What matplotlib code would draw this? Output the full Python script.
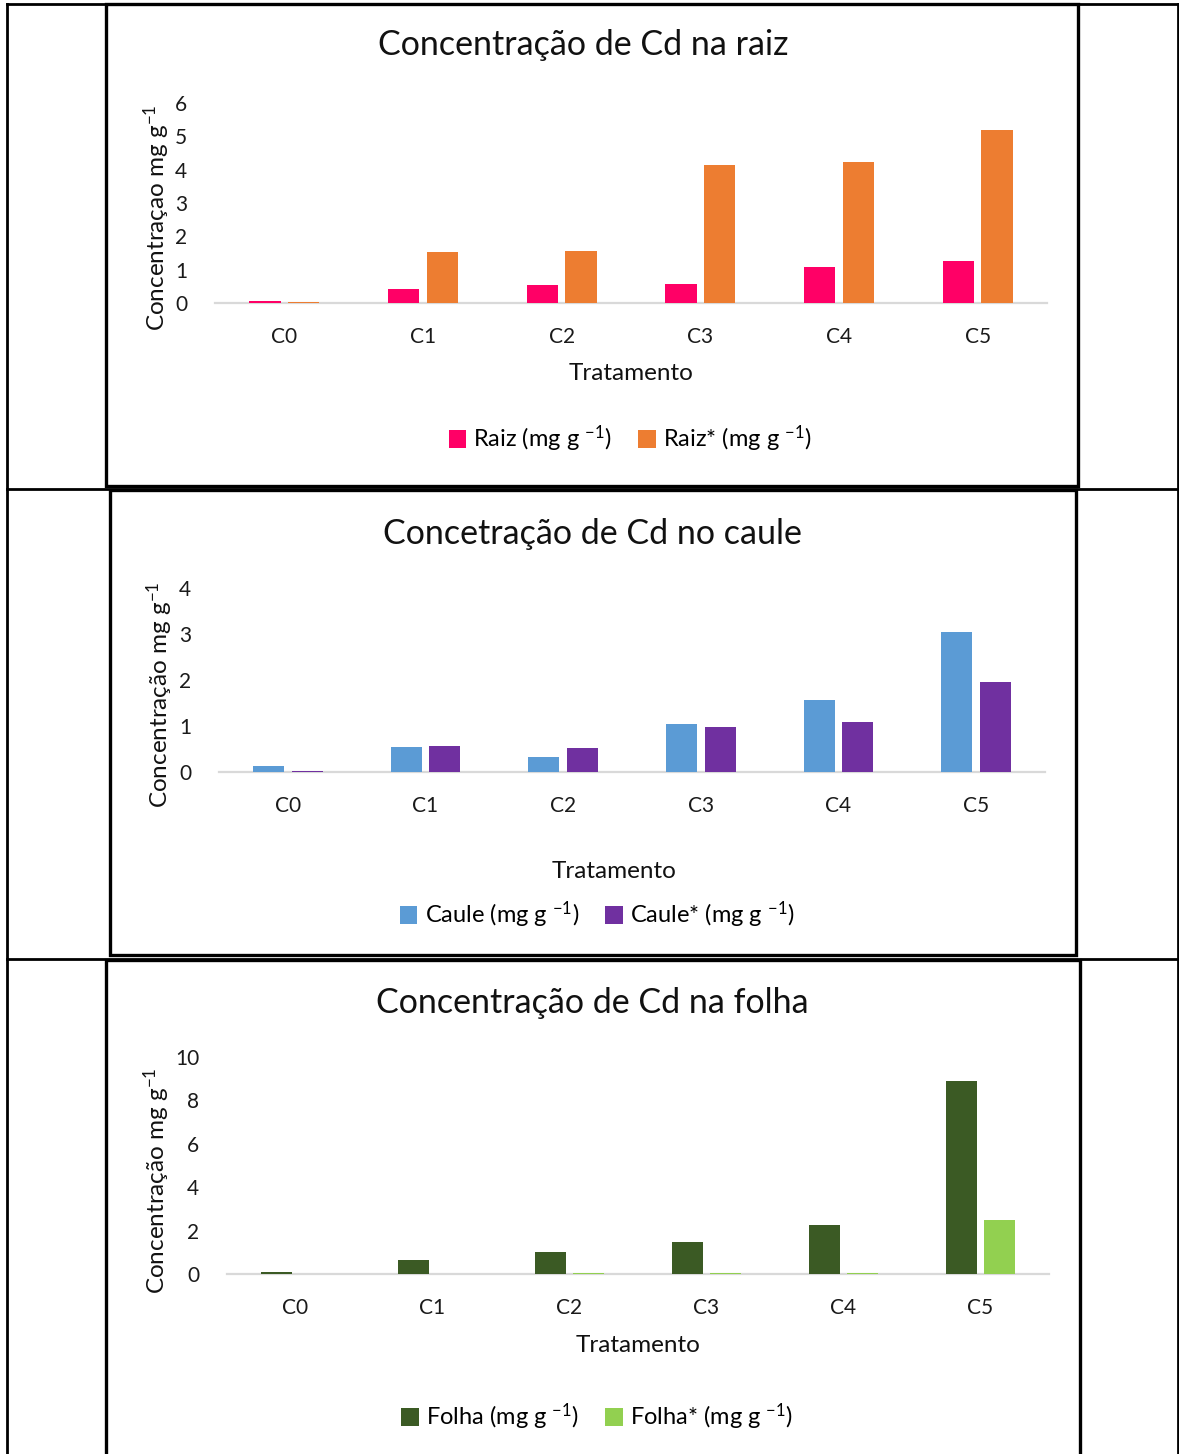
import numpy as np
import matplotlib
matplotlib.use("Agg")
import matplotlib.pyplot as plt
from matplotlib.lines import Line2D
from matplotlib.patches import Rectangle

plt.rcParams['font.family'] = ['Lato', 'DejaVu Sans']
plt.rcParams['mathtext.fontset'] = 'custom'
plt.rcParams['mathtext.rm'] = 'Lato'
plt.rcParams['mathtext.it'] = 'Lato:italic'

# dados
tratamentos = ['C0', 'C1', 'C2', 'C3', 'C4', 'C5']

raiz = [0.06, 0.42, 0.54, 0.57, 1.08, 1.26]
raiz_estrela = [0.02, 1.53, 1.56, 4.14, 4.23, 5.19]

caule = [0.13, 0.54, 0.33, 1.04, 1.57, 3.04]
caule_estrela = [0.03, 0.57, 0.52, 0.98, 1.09, 1.96]

folha = [0.08, 0.65, 1.01, 1.47, 2.26, 8.9]
folha_estrela = [0.02, 0.02, 0.03, 0.05, 0.05, 2.49]

W, H = 1179, 1454
fig = plt.figure(figsize=(W / 100, H / 100), dpi=100)
fig.patch.set_facecolor('white')


def fy(y):
    return 1 - y / H


def linha(x0, y0, x1, y1, lw=2.0):
    fig.add_artist(Line2D([x0 / W, x1 / W], [fy(y0), fy(y1)], color='black', lw=lw,
                          transform=fig.transFigure))


def caixa(x0, y0, x1, y1):
    fig.add_artist(Rectangle((x0 / W, fy(y1)), (x1 - x0) / W, (y1 - y0) / H,
                             fill=False, ec='black', lw=2.4, transform=fig.transFigure))


def painel(esq, dir_, y_zero, y_topo, ymax, passo, s1, s2, c1, c2, lab1, lab2,
           titulo, titulo_xy, ylabel, ylabel_x, trat_xy, leg_xy, pad_y):
    ax = fig.add_axes([esq / W, fy(y_zero), (dir_ - esq) / W, (y_zero - y_topo) / H])
    x = np.arange(len(tratamentos))
    w = 0.225
    b1 = ax.bar(x - 0.14, s1, width=w, color=c1, label=lab1, zorder=3)
    b2 = ax.bar(x + 0.14, s2, width=w, color=c2, label=lab2, zorder=3)
    ax.set_xlim(-0.5, len(tratamentos) - 0.5)
    ax.set_ylim(0, ymax)
    ax.set_yticks(np.arange(0, ymax + 0.01, passo))
    ax.set_xticks(x)
    ax.set_xticklabels(tratamentos)
    for s in ['top', 'right', 'left']:
        ax.spines[s].set_visible(False)
    ax.spines['bottom'].set_color('#D9D9D9')
    ax.spines['bottom'].set_linewidth(1.6)
    ax.spines['bottom'].set_zorder(2)
    ax.tick_params(axis='both', length=0, labelsize=15, colors='#1a1a1a')
    ax.tick_params(axis='y', pad=pad_y)
    ax.tick_params(axis='x', pad=17)
    ax.patch.set_alpha(0)

    fig.text(titulo_xy[0] / W, fy(titulo_xy[1]), titulo, fontsize=24.5,
             ha='center', va='center', color='#111111')
    fig.text(ylabel_x / W, fy((y_zero + y_topo) / 2 + 15), ylabel, fontsize=17.5,
             rotation=90, ha='center', va='center', color='#111111')
    fig.text(trat_xy[0] / W, fy(trat_xy[1]), 'Tratamento', fontsize=17.5,
             ha='center', va='center', color='#111111')
    fig.legend(handles=[b1, b2], labels=[lab1, lab2], loc='center',
               bbox_to_anchor=(leg_xy[0] / W, fy(leg_xy[1])), ncol=2,
               frameon=False, fontsize=17, handlelength=0.75, handleheight=0.75,
               handletextpad=0.3, columnspacing=1.1)
    return ax


sup = r'$^{-1}$'

painel(215, 1047, 303, 103, 6, 1, raiz, raiz_estrela, '#FF0066', '#ED7D31',
       'Raiz (mg g ' + sup + ')', 'Raiz* (mg g ' + sup + ')',
       'Concentração de Cd na raiz', (583, 45),
       'Concentraçao mg g' + sup, 157, (631, 374), (630, 439), 20)

painel(219, 1045, 772, 588, 4, 1, caule, caule_estrela, '#5B9BD5', '#7030A0',
       'Caule (mg g ' + sup + ')', 'Caule* (mg g ' + sup + ')',
       'Concetração de Cd no caule', (592, 534),
       'Concentração mg g' + sup, 160, (614, 871), (597, 915), 20)

painel(227, 1049, 1274, 1057, 10, 2, folha, folha_estrela, '#3B5A24', '#92D050',
       'Folha (mg g ' + sup + ')', 'Folha* (mg g ' + sup + ')',
       'Concentração de Cd na folha', (592, 1003),
       'Concentração mg g' + sup, 157, (638, 1345), (597, 1417), 20)

# linhas da tabela
linha(7, 4, 1179, 4)
linha(7, 4, 7, H)
linha(1178, 4, 1178, H)
linha(7, 489, 1179, 489)
linha(7, 959, 1179, 959)
caixa(106, 4, 1078, 486)
caixa(110, 490, 1076, 955)
caixa(106, 960, 1080, H + 5)

fig.savefig('out.png', dpi=100, facecolor='white')
